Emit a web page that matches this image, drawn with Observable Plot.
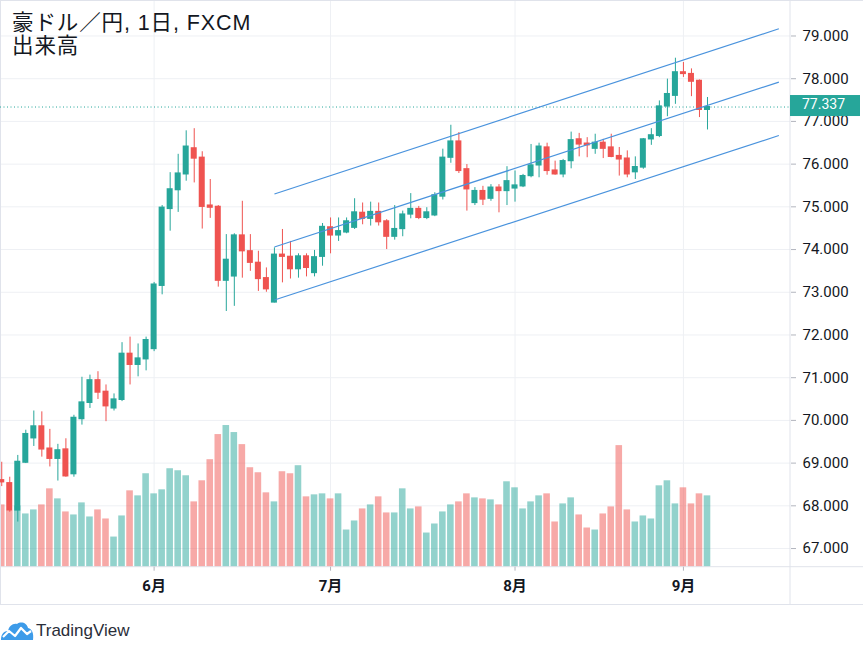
<!DOCTYPE html>
<html>
<head>
<meta charset="utf-8">
<script src="https://cdn.jsdelivr.net/npm/d3@7"></script>
<script src="https://cdn.jsdelivr.net/npm/@observablehq/plot@0.6"></script>
<style>
  html, body { margin: 0; padding: 0; background: #ffffff; }
  #wrap { position: relative; width: 863px; height: 647px; overflow: hidden; background: #fff; }
  #chart { position: absolute; left: 0; top: 0; width: 863px; height: 605px; }
  #chart svg { position: absolute; left: 0; top: 0; }
  #title { position: absolute; left: 12px; top: 12px; font-family: "Liberation Sans", "Noto Sans CJK JP", sans-serif;
           font-size: 21.5px; line-height: 23px; color: #131722; letter-spacing: 0.9px; }
  #brand { position: absolute; left: 0; top: 619px; height: 24px; display: flex; align-items: center;
           font-family: "Liberation Sans", Roboto, sans-serif; font-size: 17px; color: #2a2e39; }
  #brand svg { margin-right: 2px; }
  g[aria-label="x-axis tick label"] text { font-weight: 700; }
</style>
</head>
<body>
<div id="wrap">
  <div id="chart"></div>
  <div id="title">豪ドル／円, 1日, FXCM<br>出来高</div>
  <div id="brand">
    <svg width="34" height="22" viewBox="0 0 34 22">
      <path d="M1 20 C1 14 4 11 8 11 C9 6 13 3 17 4 C21 1 27 3 28 8 C32 9 34 13 33 20 Z" fill="#3d9be9"/>
      <path d="M3 17 L9 11 L15 16 L21 8 L27 14 L31 11" fill="none" stroke="#ffffff" stroke-width="2.2" stroke-linejoin="round"/>
    </svg>
    <span>TradingView</span>
  </div>
</div>
<script>
// ---- data (AUD/JPY daily, FXCM, 2020-05-05 .. 2020-09-04) ----
const open = [
  68.60,68.53,67.89,69.01,69.58,69.86,69.34,69.10,69.32,68.74,
  70.03,70.41,70.94,70.67,70.28,70.48,71.56,71.30,71.43,71.67,
  73.15,74.95,75.39,75.76,76.37,76.15,75.03,75.00,73.27,73.37,
  74.33,73.96,73.69,73.33,72.76,73.88,73.83,73.54,73.84,73.45,
  73.83,74.52,74.33,74.40,74.51,74.86,74.72,74.88,74.66,74.30,
  74.48,74.82,74.95,74.74,74.80,75.24,76.15,76.53,75.88,75.09,
  75.37,75.19,75.45,75.37,75.43,75.48,75.72,75.97,76.39,75.85,
  75.76,76.07,76.58,76.48,76.36,76.50,76.39,76.19,76.13,75.81,
  75.92,76.58,76.66,77.35,77.60,78.15,78.11,77.95,77.27];
const high = [
  69.02,68.67,69.18,69.77,70.22,70.20,69.79,69.44,69.57,70.12,
  71.01,71.06,71.14,70.83,70.62,71.82,71.95,71.79,71.95,73.23,
  75.03,75.80,76.23,76.78,76.83,76.29,75.64,75.03,74.35,74.37,
  75.13,74.35,73.96,73.57,74.04,74.47,74.19,73.90,73.90,73.98,
  74.61,74.74,74.74,74.74,75.19,75.09,75.11,75.09,74.70,75.03,
  74.90,75.31,75.01,74.98,75.33,76.35,76.91,76.74,75.99,75.45,
  75.48,75.52,75.52,75.94,75.84,75.76,76.46,76.49,76.49,76.07,
  76.11,76.75,76.72,76.62,76.70,76.58,76.70,76.39,76.31,76.17,
  76.60,76.83,77.48,77.99,78.48,78.38,78.23,77.97,77.56];
const low = [
  68.45,67.85,67.62,68.99,69.39,69.14,68.91,68.58,68.67,68.67,
  69.89,70.28,70.49,69.97,70.22,70.44,70.83,71.02,71.16,71.61,
  72.94,74.43,74.87,75.60,75.56,74.48,74.73,73.12,72.55,72.67,
  73.33,73.49,73.02,73.00,72.75,73.22,73.31,73.33,73.36,73.36,
  73.61,73.90,74.19,74.37,74.47,74.58,74.55,74.55,74.00,74.22,
  74.30,74.72,74.70,74.70,74.77,75.16,76.02,75.78,74.90,75.03,
  75.03,75.13,74.86,75.03,75.11,75.45,75.68,75.68,75.74,75.74,
  75.68,75.89,76.17,76.15,76.23,76.13,76.15,75.72,75.68,75.64,
  75.88,76.44,76.62,77.11,77.40,78.03,77.58,77.09,76.80];
const close = [
  68.55,67.89,69.03,69.68,69.86,69.32,69.10,69.30,68.69,70.06,
  70.42,70.94,70.65,70.33,70.49,71.56,71.30,71.45,71.88,73.18,
  74.98,75.41,75.78,76.41,76.13,75.00,74.98,73.27,73.76,74.33,
  73.96,73.69,73.31,73.07,73.88,73.83,73.54,73.84,73.57,73.82,
  74.53,74.33,74.43,74.66,74.87,74.72,74.88,74.64,74.30,74.48,
  74.82,74.95,74.74,74.87,75.27,76.15,76.53,75.84,75.41,75.37,
  75.17,75.45,75.37,75.60,75.50,75.72,75.97,76.41,75.84,75.76,
  76.07,76.56,76.46,76.44,76.50,76.36,76.17,76.11,75.76,75.93,
  76.58,76.675,77.35,77.64,78.15,78.11,77.93,77.27,77.337];
const volume = [
  62,56,61,53,57,62,78,68,55,52,
  64,50,57,48,30,51,76,71,93,73,
  77,98,96,91,65,86,107,132,141,134,
  122,99,94,74,65,95,93,101,70,72,
  73,68,73,37,46,58,62,70,54,54,
  78,58,60,34,43,55,62,65,73,69,
  68,67,62,85,79,58,65,71,73,45,
  63,69,52,39,37,53,60,121,57,45,
  51,48,81,86,63,79,63,73,71];
// trading days (weekdays) covered by the bars
const dates = d3.utcDay.range(new Date(Date.UTC(2020, 4, 5)), new Date(Date.UTC(2020, 8, 5)))
  .filter(d => d.getUTCDay() !== 0 && d.getUTCDay() !== 6);
const priceTicks = [67, 68, 69, 70, 71, 72, 73, 74, 75, 76, 77, 78, 79];
// parallel channel drawing (bar index, price)
const channelX = [34, 96.9];
const channelUpper = [75.30, 79.17];
const channelMiddle = [74.06, 77.92];
const channelLower = [72.82, 76.67];

// ---- derived ----
const idx = d3.range(close.length);
const upIdx = idx.filter(i => close[i] >= open[i]);
const downIdx = idx.filter(i => close[i] < open[i]);
const monthStart = idx.filter(i => i > 0 && dates[i].getUTCMonth() !== dates[i - 1].getUTCMonth());
const lastClose = close[close.length - 1];
const channels = [channelUpper, channelMiddle, channelLower];

const UP = "#26a69a", DOWN = "#ef5350";
const UPV = "rgba(38,166,154,0.5)", DOWNV = "rgba(239,83,80,0.5)";
const GRID = "#eef0f4", LINE = "#e0e3eb", CH = "#4a93dd";

const base = {
  width: 863, height: 605,
  marginLeft: 0, marginRight: 73, marginTop: 0, marginBottom: 38.3,
  x: {domain: [-0.155, 98.35], axis: null},
  style: {background: "transparent", fontFamily: "Roboto, 'Noto Sans CJK JP', sans-serif", fontSize: "15px", color: "#131722", overflow: "visible"}
};
const yDomain = [66.563, 79.831];

// layer 1: grid
const gridPlot = Plot.plot({
  ...base,
  y: {domain: yDomain, axis: null},
  marks: [
    Plot.ruleY(priceTicks, {stroke: GRID}),
    Plot.ruleX(monthStart, {stroke: GRID})
  ]
});

// layer 2: volume
const volPlot = Plot.plot({
  ...base,
  y: {domain: [0, d3.max(volume) * 4], axis: null},
  marks: [
    Plot.rectY(upIdx, {x1: i => i - 0.41, x2: i => i + 0.41, y1: 0, y2: i => volume[i], fill: UPV}),
    Plot.rectY(downIdx, {x1: i => i - 0.41, x2: i => i + 0.41, y1: 0, y2: i => volume[i], fill: DOWNV})
  ]
});

// layer 3: candles, channel, axes
const pricePlot = Plot.plot({
  ...base,
  y: {domain: yDomain},
  marks: [
    Plot.ruleY([lastClose], {stroke: UP, strokeDasharray: "1,2.5"}),
    Plot.ruleX(upIdx, {x: i => i, y1: i => low[i], y2: i => high[i], stroke: UP}),
    Plot.ruleX(downIdx, {x: i => i, y1: i => low[i], y2: i => high[i], stroke: DOWN}),
    Plot.rect(upIdx, {x1: i => i - 0.375, x2: i => i + 0.375, y1: i => open[i], y2: i => close[i], fill: UP, insetTop: -0.6, insetBottom: -0.6}),
    Plot.rect(downIdx, {x1: i => i - 0.375, x2: i => i + 0.375, y1: i => open[i], y2: i => close[i], fill: DOWN, insetTop: -0.6, insetBottom: -0.6}),
    Plot.link(channels, {x1: () => channelX[0], x2: () => channelX[1], y1: c => c[0], y2: c => c[1], stroke: CH, strokeWidth: 1.2}),
    Plot.axisY({anchor: "right", ticks: priceTicks, tickFormat: d => d.toFixed(3), tickSize: 5, tickPadding: 7, stroke: "#b2b5be", label: null, fontSize: 15}),
    Plot.axisX({anchor: "bottom", ticks: monthStart, tickFormat: i => `${dates[i].getUTCMonth() + 1}月`, tickSize: 4, tickPadding: 9, stroke: "#b2b5be", label: null, fontSize: 15, fontWeight: "bold"})
  ]
});

const chart = document.getElementById("chart");
chart.append(gridPlot, volPlot, pricePlot);

// frame lines and last-price tag
const svg = d3.select(pricePlot);
const fr = svg.insert("g", ":first-child").attr("stroke", LINE).attr("fill", "none");
fr.append("line").attr("x1", 0).attr("x2", 863).attr("y1", 566.7).attr("y2", 566.7);
fr.append("line").attr("x1", 790).attr("x2", 790).attr("y1", 0).attr("y2", 605);
fr.append("line").attr("x1", 0).attr("x2", 863).attr("y1", 604.5).attr("y2", 604.5);
fr.append("line").attr("x1", 0).attr("x2", 863).attr("y1", 0.5).attr("y2", 0.5);
fr.append("line").attr("x1", 0.5).attr("x2", 0.5).attr("y1", 0).attr("y2", 605);

const yLast = pricePlot.scale("y").apply(lastClose);
const tag = svg.append("g");
tag.append("rect").attr("x", 790).attr("y", yLast - 11.5).attr("width", 70).attr("height", 21).attr("fill", UP);
tag.append("text").attr("x", 802).attr("y", yLast - 2.5).attr("dy", "0.35em").attr("text-anchor", "start")
  .attr("fill", "#ffffff").style("font-size", "14px").text(lastClose.toFixed(3));
</script>
</body>
</html>
